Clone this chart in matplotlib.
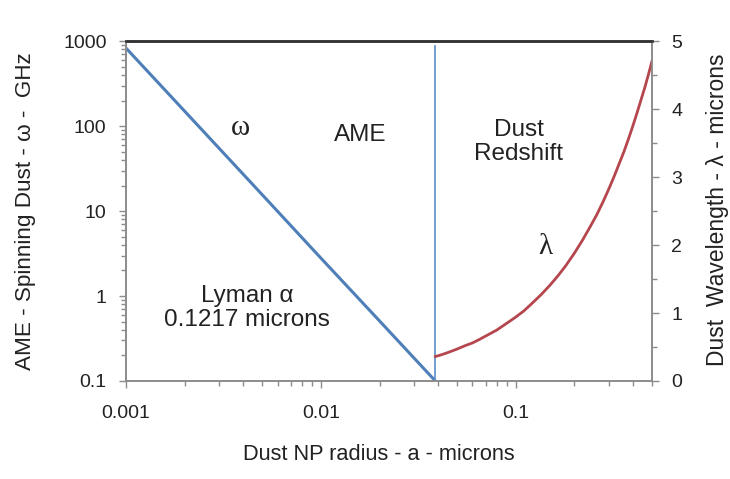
import numpy as np
import matplotlib.pyplot as plt
from matplotlib.ticker import LogLocator, MultipleLocator, NullFormatter, FixedLocator, FixedFormatter

plt.rcParams['font.family'] = ['Liberation Sans', 'DejaVu Sans']

# AME spinning dust frequency (GHz) vs radius (microns)
a_ome = [0.001, 0.002, 0.005, 0.01, 0.02, 0.0387]
omega = [830, 150, 15.6, 2.8, 0.51, 0.1]

# Lyman alpha cutoff radius
a_cut = 0.0387

# dust wavelength (microns) vs radius
a_lam = [0.0387, 0.042, 0.045, 0.05, 0.055, 0.06, 0.065, 0.07, 0.08, 0.09, 0.1,
         0.11, 0.12, 0.135, 0.15, 0.165, 0.18, 0.2, 0.22, 0.24, 0.26, 0.28,
         0.3, 0.32, 0.34, 0.36, 0.38, 0.4, 0.42, 0.44, 0.46, 0.48, 0.5]
lam = [0.36, 0.39, 0.42, 0.47, 0.52, 0.56, 0.61, 0.66, 0.75, 0.85, 0.94,
       1.03, 1.13, 1.27, 1.41, 1.55, 1.69, 1.88, 2.07, 2.26, 2.44, 2.63,
       2.82, 3.01, 3.20, 3.38, 3.57, 3.76, 3.95, 4.14, 4.32, 4.51, 4.70]

grey = '#8c8c8c'
blue = '#4f7fb8'
red = '#b5464e'
txt = '#222222'

fig = plt.figure(figsize=(7.3, 4.79), dpi=100)
fig.subplots_adjust(left=0.1726, right=0.893, top=0.914, bottom=0.2046)
ax = fig.add_subplot(111)
ax2 = ax.twinx()

ax.plot(a_ome, omega, color=blue, lw=2.2, solid_capstyle='butt')
ax.plot([a_cut, a_cut], [0.1, 880], color='#5b8cc8', lw=1.2)
ax2.plot(a_lam, lam, color=red, lw=2.0)

ax.set_xscale('log')
ax.set_yscale('log')
ax.set_xlim(0.001, 0.5)
ax.set_ylim(0.1, 1000)
ax2.set_ylim(0, 5)

ax.xaxis.set_major_locator(FixedLocator([0.001, 0.01, 0.1]))
ax.xaxis.set_major_formatter(FixedFormatter(['0.001', '0.01', '0.1']))
ax.xaxis.set_minor_locator(LogLocator(base=10, subs=np.arange(2, 10)))
ax.xaxis.set_minor_formatter(NullFormatter())
ax.yaxis.set_major_locator(FixedLocator([0.1, 1, 10, 100, 1000]))
ax.yaxis.set_major_formatter(FixedFormatter(['0.1', '1', '10', '100', '1000']))
ax.yaxis.set_minor_locator(LogLocator(base=10, subs=np.arange(2, 10)))
ax.yaxis.set_minor_formatter(NullFormatter())
ax2.yaxis.set_major_locator(MultipleLocator(1))
ax2.yaxis.set_minor_locator(MultipleLocator(0.5))

for a in (ax, ax2):
    for s in a.spines.values():
        s.set_color(grey)
        s.set_linewidth(1.2)
    a.spines['top'].set_color('#333333')
    a.spines['top'].set_linewidth(1.8)
    a.tick_params(which='both', direction='out', color=grey, width=1.0, labelsize=14, labelcolor=txt)
    a.tick_params(which='major', length=5)
    a.tick_params(which='minor', length=3.6)

ax.tick_params(axis='x', which='major', pad=12)
ax.tick_params(axis='y', which='major', pad=9)
ax2.tick_params(axis='y', which='major', pad=9)

ax.set_xlabel('Dust NP radius - a - microns', fontsize=15.7, color=txt, va='center', ha='center')
ax.xaxis.set_label_coords(0.481, -0.2176)
ax.set_ylabel('AME - Spinning Dust - \u03c9 -  GHz', fontsize=16.2, color=txt, va='center', ha='center')
ax.yaxis.set_label_coords(-0.192, 0.4985)
ax2.set_ylabel('Dust  Wavelength - \u03bb - microns', fontsize=16.5, color=txt, va='center', ha='center')
ax2.yaxis.set_label_coords(1.1255, 0.503)

tk = dict(transform=ax.transAxes, ha='center', va='center', fontsize=17.5, color=txt)
sym = dict(transform=ax.transAxes, ha='center', va='center', fontsize=21, color=txt,
           family=['Liberation Serif', 'DejaVu Serif'])
ax.text(0.217, 0.744, '\u03c9', **sym)
ax.text(0.445, 0.724, 'AME', **tk)
ax.text(0.747, 0.703, 'Dust\nRedshift', linespacing=1.1, **tk)
ax.text(0.798, 0.394, '\u03bb', **sym)
ax.text(0.230, 0.215, 'Lyman \u03b1\n0.1217 microns', linespacing=1.1, **tk)

fig.savefig('out.png', dpi=100)
